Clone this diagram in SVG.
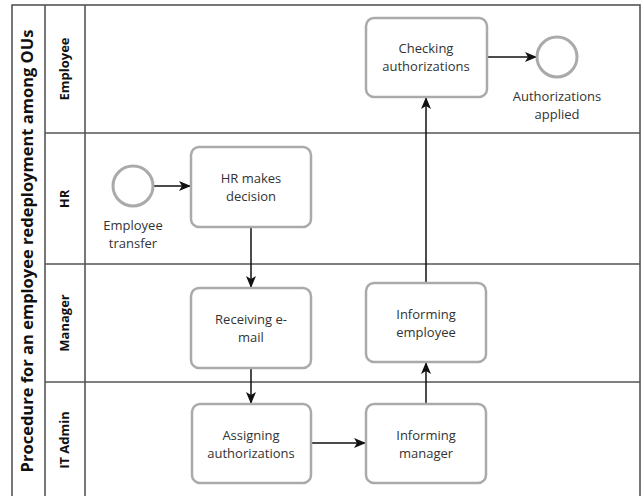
<svg xmlns="http://www.w3.org/2000/svg" width="644" height="496" viewBox="0 0 644 496">
<style>
.frame{fill:none;stroke:#555;stroke-width:1.6}
.task{fill:#fff;stroke:#aaa;stroke-width:2.5}
.ev{fill:#fff;stroke:#aaa;stroke-width:3}
.t{font-family:"Open Sans","Noto Sans",sans-serif;font-size:13px;fill:#333;text-anchor:middle}
.lane{font-family:"Open Sans","Noto Sans",sans-serif;font-size:13px;font-weight:bold;fill:#111;text-anchor:middle}
.title{font-family:"Open Sans","Noto Sans",sans-serif;font-size:16.5px;font-weight:bold;fill:#111;text-anchor:middle}
.c{fill:none;stroke:#111;stroke-width:1.5}
</style>
<defs>
<marker id="ah" viewBox="0 0 12 10" refX="12" refY="5" markerWidth="12" markerHeight="10" markerUnits="userSpaceOnUse" orient="auto">
<path d="M0,0 L12,5 L0,10 L3,5 Z" fill="#111"/>
</marker>
</defs>
<rect width="644" height="496" fill="#fff"/>
<g id="pool">
<rect class="frame" x="12" y="5" width="628" height="495"/>
<line class="frame" x1="45" y1="5" x2="45" y2="500"/>
<line class="frame" x1="85" y1="5" x2="85" y2="500"/>
<line class="frame" x1="45" y1="133" x2="640" y2="133"/>
<line class="frame" x1="45" y1="264" x2="640" y2="264"/>
<line class="frame" x1="45" y1="382" x2="640" y2="382"/>
<text class="title" transform="translate(33,251) rotate(-90)">Procedure for an employee redeployment among OUs</text>
<text class="lane" transform="translate(69,69) rotate(-90)">Employee</text>
<text class="lane" transform="translate(69,199) rotate(-90)">HR</text>
<text class="lane" transform="translate(69,323) rotate(-90)">Manager</text>
<text class="lane" transform="translate(69,440) rotate(-90)">IT Admin</text>
</g>
<g id="connectors">
<line class="c" x1="153" y1="186" x2="191" y2="186" marker-end="url(#ah)"/>
<line class="c" x1="251" y1="227" x2="251" y2="288" marker-end="url(#ah)"/>
<line class="c" x1="251" y1="368" x2="251" y2="404" marker-end="url(#ah)"/>
<line class="c" x1="311" y1="443" x2="366" y2="443" marker-end="url(#ah)"/>
<line class="c" x1="426" y1="404" x2="426" y2="362" marker-end="url(#ah)"/>
<line class="c" x1="426" y1="283" x2="426" y2="97" marker-end="url(#ah)"/>
<line class="c" x1="487" y1="57" x2="537" y2="57" marker-end="url(#ah)"/>
</g>
<g id="start">
<circle class="ev" cx="133" cy="186" r="20"/>
<text class="t" x="133" y="230">Employee</text>
<text class="t" x="133" y="248">transfer</text>
</g>
<g id="hr-decision">
<rect class="task" x="191" y="147" width="120" height="80" rx="8"/>
<text class="t" x="251" y="183">HR makes</text>
<text class="t" x="251" y="201">decision</text>
</g>
<g id="receiving">
<rect class="task" x="191" y="288" width="120" height="80" rx="8"/>
<text class="t" x="251" y="324">Receiving e-</text>
<text class="t" x="251" y="342">mail</text>
</g>
<g id="assigning">
<rect class="task" x="192" y="404" width="119" height="79" rx="8"/>
<text class="t" x="251" y="440">Assigning</text>
<text class="t" x="251" y="458">authorizations</text>
</g>
<g id="informing-manager">
<rect class="task" x="366" y="404" width="120" height="79" rx="8"/>
<text class="t" x="426" y="440">Informing</text>
<text class="t" x="426" y="458">manager</text>
</g>
<g id="informing-employee">
<rect class="task" x="366" y="283" width="120" height="79" rx="8"/>
<text class="t" x="426" y="319">Informing</text>
<text class="t" x="426" y="337">employee</text>
</g>
<g id="checking">
<rect class="task" x="366" y="18" width="121" height="79" rx="8"/>
<text class="t" x="426" y="53">Checking</text>
<text class="t" x="426" y="71">authorizations</text>
</g>
<g id="end">
<circle class="ev" cx="557" cy="57" r="20"/>
<text class="t" x="557" y="101">Authorizations</text>
<text class="t" x="557" y="119">applied</text>
</g>
</svg>
